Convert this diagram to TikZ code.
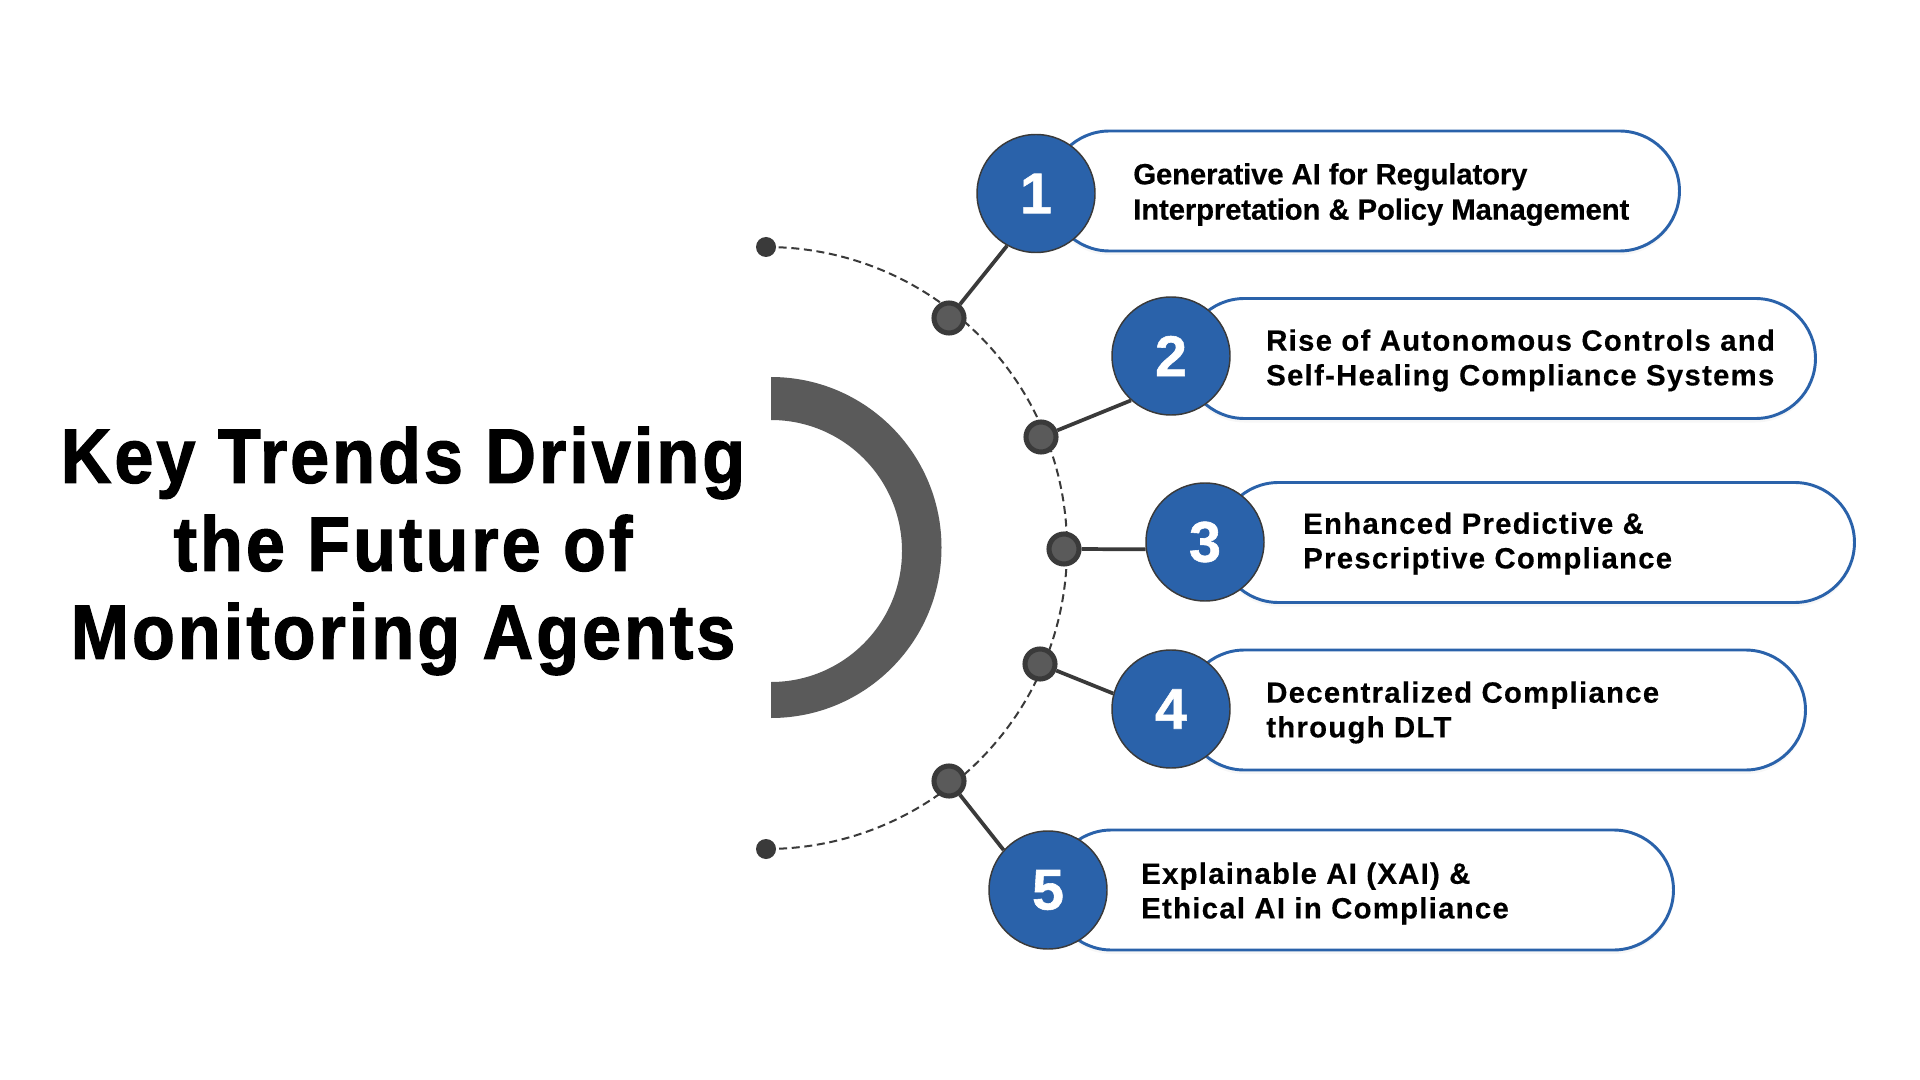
\documentclass[tikz,border=0pt]{standalone}
\usepackage{fontspec}
\setmainfont{Liberation Sans}
\newfontfamily\titlefont[BoldFont={Liberation Sans Bold},BoldFeatures={FakeBold=1.6,FakeStretch=0.905,LetterSpace=4}]{Liberation Sans}
\newfontfamily\badgefont[BoldFont={Liberation Sans Bold},BoldFeatures={FakeBold=1}]{Liberation Sans}
\newfontfamily\tightfont[BoldFont={Liberation Sans Bold},BoldFeatures={FakeBold=0.4,LetterSpace=-0.5}]{Liberation Sans}
\newfontfamily\widefont[BoldFont={Liberation Sans Bold},BoldFeatures={FakeBold=0.4,LetterSpace=4.3}]{Liberation Sans}
\usepackage{tikz}
\usetikzlibrary{shapes.misc,shadows}
\definecolor{pillblue}{RGB}{42,98,170}
\definecolor{ringgray}{RGB}{90,90,90}
\definecolor{linedark}{RGB}{58,58,58}
\tikzset{
    pill/.style={rounded rectangle,draw=pillblue,fill=white,line width=2.2pt,minimum height=90,
        inner sep=0pt,anchor=west,drop shadow={opacity=0.06,shadow xshift=0pt,shadow yshift=-3pt}},
    badge/.style={circle,draw=linedark,fill=pillblue,line width=1.1pt,minimum size=88.5,inner sep=0pt,
        text=white,font=\fontsize{43}{43}\selectfont\badgefont\bfseries},
    joint/.style={circle,draw=linedark,fill=ringgray,line width=3.8pt,minimum size=22.5,inner sep=0pt},
    tip/.style={circle,fill=linedark,minimum size=15,inner sep=0pt},
    label/.style={anchor=west,inner sep=0pt,align=left,text=black},
    link/.style={linedark,line width=2.8pt},
}
\begin{document}
\begin{tikzpicture}[x=0.75pt,y=0.75pt,yscale=-1,xscale=1]
    \useasboundingbox (0,0) rectangle (1920,1080);
    \fill[white] (0,0) rectangle (1920,1080);

    % half ring
    \fill[ringgray] (771,377) arc (-90:90:170.5) -- (771,682) arc (90:-90:131) -- cycle;

    % dashed arc
    \draw[linedark,line width=1.5pt,dash pattern=on 6pt off 3.5pt] (766,247) arc (-90:90:301);

    \node[tip] (top) at (766,247) {};
    \node[tip] (bottom) at (766,849) {};
    \node[joint] (j1) at (949,318) {};
    \node[joint] (j2) at (1041,437) {};
    \node[joint] (j3) at (1064,549) {};
    \node[joint] (j4) at (1040,664) {};
    \node[joint] (j5) at (949,781) {};

    \node[pill,minimum width=472.5] (p1) at (1048,191) {};
    \node[pill,minimum width=473.25] (p2) at (1183,358.5) {};
    \node[pill,minimum width=477] (p3) at (1217,542.5) {};
    \node[pill,minimum width=465.75] (p4) at (1183,710) {};
    \node[pill,minimum width=466.5] (p5) at (1050,890) {};

    \node[badge] (b1) at (1036,193.5) {1};
    \node[badge] (b2) at (1171,356) {2};
    \node[badge] (b3) at (1205,542) {3};
    \node[badge] (b4) at (1171,709) {4};
    \node[badge] (b5) at (1048,890) {5};

    \draw[link] (j1) -- (b1.241);
    \draw[link] (j2) -- (b2.228);
    \draw[link] (j3) -- (b3.187);
    \draw[link] (j4) -- (b4.165);
    \draw[link] (j5) -- (b5.138);

    \node[label,font=\fontsize{22}{26.5}\selectfont\tightfont\bfseries] (t1) at (1133,194.5) {Generative AI for Regulatory\\Interpretation \& Policy Management};
    \node[label,font=\fontsize{22}{26}\selectfont\widefont\bfseries] (t2) at (1266,360.5) {Rise of Autonomous Controls and\\Self-Healing Compliance Systems};
    \node[label,font=\fontsize{22}{26}\selectfont\widefont\bfseries] (t3) at (1303,543.5) {Enhanced Predictive \&\\Prescriptive Compliance};
    \node[label,font=\fontsize{22}{26}\selectfont\widefont\bfseries] (t4) at (1266,712.5) {Decentralized Compliance\\through DLT};
    \node[label,font=\fontsize{22}{26}\selectfont\widefont\bfseries] (t5) at (1141,893.5) {Explainable AI (XAI) \&\\Ethical AI in Compliance};

    \node[align=center,inner sep=0pt,font=\fontsize{58}{66}\selectfont\titlefont\bfseries] (title) at (403,551) {Key Trends Driving\\the Future of\\Monitoring Agents};
\end{tikzpicture}
\end{document}
